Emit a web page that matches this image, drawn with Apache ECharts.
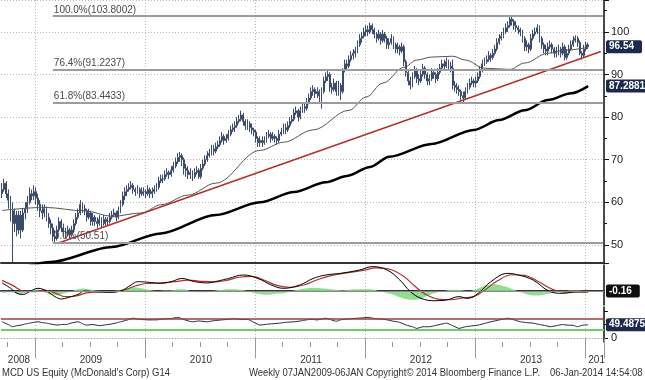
<!DOCTYPE html>
<html><head><meta charset="utf-8">
<script src="https://cdn.jsdelivr.net/npm/echarts@6/dist/echarts.min.js"></script>
<style>html,body{margin:0;padding:0;background:#fff}#c{width:645px;height:380px}</style>
</head><body><div id="c"></div>
<script>
// ---------- data ----------
const startDate = '2008-09-15';          // first weekly bar
const nWeeks = 285;                       // weekly slots on the time axis
const firstOpen = 62.0;
const closes = [
63.0,64.5,62.0,60.5,58.0,55.0,57.0,53.5,57.0,53.5,
57.5,58.5,60.0,62.0,61.5,62.5,61.0,59.5,58.0,57.5,
58.5,56.5,55.0,54.0,52.0,51.5,53.5,55.5,54.0,53.0,
52.5,53.5,52.5,53.5,55.0,56.5,57.5,59.5,58.5,58.0,
56.5,57.5,55.5,56.5,55.5,55.0,56.0,55.0,56.0,55.5,
55.5,56.5,57.0,57.5,56.5,58.0,59.5,61.5,62.5,63.0,
63.5,64.0,63.0,62.5,63.0,62.0,62.5,62.5,62.0,63.0,
62.0,62.5,63.0,63.5,65.0,65.5,65.5,66.5,67.0,66.5,
67.5,68.5,69.5,70.5,71.0,70.0,68.0,67.5,66.5,67.0,
66.0,67.0,67.5,66.0,68.0,69.0,70.0,71.0,71.5,72.5,
72.0,73.0,73.5,74.5,75.5,74.5,75.0,76.0,77.0,77.5,
78.0,79.0,79.5,80.5,79.0,78.0,78.5,77.5,77.0,76.5,
75.0,74.0,74.5,74.0,74.5,75.5,76.0,75.0,75.5,75.0,
74.5,76.0,76.5,77.5,77.0,78.0,79.0,79.5,81.0,81.5,
80.0,81.5,82.5,82.0,83.5,84.5,86.0,86.5,85.5,86.0,
85.0,86.0,88.5,89.5,90.0,87.0,86.5,88.0,86.0,87.5,
86.0,91.0,92.5,92.0,93.5,94.5,95.0,95.5,97.0,98.5,
99.0,100.0,100.5,100.0,101.5,100.5,99.5,98.5,99.5,98.0,
99.5,98.5,97.0,97.5,98.5,97.0,96.0,96.5,95.5,96.5,
93.0,90.5,88.5,87.5,89.5,91.0,89.0,88.5,90.0,91.5,
90.0,88.5,89.0,90.5,90.0,89.0,90.5,91.5,92.5,92.0,
93.0,92.0,91.5,87.5,87.0,86.5,86.0,85.0,84.5,86.0,
87.0,88.0,88.5,88.0,88.5,89.5,91.0,92.5,93.0,93.5,
94.5,94.0,95.0,96.0,97.5,98.5,99.0,100.0,101.0,101.5,
103.0,102.5,101.5,101.0,100.5,100.0,98.5,96.5,97.0,96.0,
98.5,99.5,100.0,101.0,98.5,97.0,96.0,95.5,96.5,97.0,
96.0,95.0,95.5,96.0,95.0,96.5,94.0,95.0,96.0,97.0,
98.0,98.5,97.5,95.0,94.5,96.0,97.0,96.54];
const highs = [
64.5,65.5,65.0,63.0,61.5,60.0,58.5,58.0,58.0,58.0,
58.5,60.0,61.5,63.5,63.0,64.0,63.5,62.0,60.5,59.5,
59.5,59.0,57.5,56.0,55.0,53.5,54.5,56.5,56.0,55.0,
54.0,54.5,54.0,54.5,56.0,57.5,58.5,60.5,60.0,59.5,
58.5,58.5,58.0,57.5,57.0,56.5,57.0,56.5,57.0,56.5,
56.5,57.5,58.0,58.5,58.0,59.0,60.5,62.5,63.5,64.0,
64.5,65.0,64.5,63.5,64.0,63.5,63.5,63.5,63.0,64.0,
63.5,63.5,64.0,64.5,66.0,66.5,66.5,67.5,68.0,67.5,
68.5,69.5,70.5,71.5,71.8,71.5,70.5,69.0,68.5,68.0,
67.5,68.0,68.5,68.0,69.0,70.0,71.0,72.0,72.5,73.5,
73.5,74.0,74.5,75.5,76.5,76.0,76.0,77.0,78.0,78.5,
79.0,80.0,80.5,81.5,81.0,79.5,79.5,79.0,78.5,77.5,
77.0,75.5,75.5,75.5,75.5,76.5,77.0,76.5,76.5,76.0,
75.5,77.0,77.5,78.5,78.5,79.0,80.0,80.5,82.0,82.5,
82.0,82.5,83.5,83.5,84.5,85.5,87.0,87.5,87.0,87.0,
86.5,87.0,89.5,90.5,91.0,90.5,88.0,89.0,88.5,88.5,
88.0,91.5,93.5,93.5,94.5,95.5,96.0,96.5,98.0,99.5,
100.0,101.0,101.5,101.5,102.2,102.0,101.0,100.0,100.5,100.0,
100.5,100.0,99.0,98.5,99.5,99.0,97.5,97.5,97.0,97.5,
97.0,93.5,91.0,89.5,90.5,92.0,91.5,90.0,91.0,92.5,
92.0,90.5,90.0,91.5,91.0,90.5,91.5,92.5,93.5,93.5,
94.0,93.5,93.0,93.5,88.5,88.0,87.5,86.5,86.0,87.0,
88.0,89.0,89.5,89.0,89.5,90.5,92.0,93.5,94.0,94.5,
95.5,95.0,96.0,97.0,98.5,99.5,100.0,101.0,102.0,102.5,
103.8,103.7,103.0,102.5,101.5,101.0,100.5,99.0,98.0,97.5,
99.5,100.5,101.0,101.8,101.5,99.0,97.5,97.0,97.5,98.0,
97.5,96.5,96.5,97.0,96.5,97.5,97.0,96.0,97.0,98.0,
99.0,99.2,99.0,98.0,95.5,97.0,97.7,97.5];
const lows = [
61.0,62.5,61.0,58.5,55.5,45.9,53.0,52.0,52.5,51.5,
53.0,56.0,57.5,59.5,60.5,60.5,59.5,58.0,56.5,56.0,
56.5,55.5,54.0,52.5,50.8,50.5,51.0,53.0,53.0,52.0,
51.5,52.0,51.5,52.0,53.0,54.5,56.0,57.0,57.5,57.0,
55.5,56.0,54.5,54.5,54.5,54.0,54.5,54.0,54.5,54.5,
54.5,55.0,56.0,56.5,55.5,56.0,57.5,59.0,60.5,61.5,
62.5,63.0,62.0,61.5,62.0,61.0,61.5,61.5,61.0,61.5,
61.0,61.0,62.0,62.5,63.0,64.5,64.5,65.0,66.0,65.5,
66.0,67.0,68.0,69.0,69.5,68.5,66.5,66.0,65.5,65.5,
65.0,65.5,66.5,65.5,65.5,67.5,68.5,69.5,70.5,71.0,
71.0,71.5,72.5,73.0,74.0,73.5,74.0,74.5,75.5,76.5,
76.5,77.5,78.5,79.0,78.0,77.0,77.0,76.5,76.0,75.5,
74.0,73.0,73.0,73.0,73.5,74.0,75.0,74.0,74.5,74.0,
73.5,74.0,75.5,76.0,76.0,76.5,77.5,78.5,79.0,80.5,
79.0,79.5,81.0,81.0,81.5,83.0,84.0,85.0,84.5,84.5,
83.5,82.0,85.5,88.0,88.5,86.0,85.5,86.0,85.0,85.0,
84.0,85.5,90.5,91.0,91.5,93.0,93.5,94.0,95.0,96.5,
97.5,98.5,99.0,99.0,99.5,99.5,98.5,97.5,98.0,97.0,
97.5,97.5,96.0,96.0,97.0,96.0,95.0,95.0,94.5,95.0,
92.0,89.5,87.5,86.5,87.0,89.0,88.0,87.5,88.0,89.5,
89.0,87.5,87.5,88.5,89.0,88.0,88.5,90.0,91.0,91.0,
91.5,91.0,90.5,86.5,86.0,85.5,85.0,84.0,83.4,84.0,
85.5,86.5,87.5,87.0,87.0,88.0,89.0,90.5,92.0,92.5,
93.0,93.0,93.5,94.5,95.5,97.0,98.0,98.5,99.5,100.0,
101.0,101.5,100.5,100.0,99.5,99.0,97.5,95.5,95.5,95.0,
95.5,98.0,99.0,99.5,97.5,96.0,95.0,94.5,94.5,96.0,
95.0,94.0,94.0,94.5,94.0,94.5,93.3,93.5,94.5,95.5,
96.5,97.5,96.5,94.5,93.5,94.0,95.5,96.0];
// moving averages [week index, value]
const maShort = [[0,58.1],[20,58.8],[39,58.0],[52,56.7],[66,57.5],[75,59.4],[88,61.7],[101,64.5],[122,72.2],[133,74.1],[147,77.0],[164,81.6],[172,84.7],[180,88.0],[190,91.7],[196,93.4],[203,94.1],[213,94.3],[219,93.4],[228,91.5],[240,91.2],[247,92.7],[258,95.0],[266,95.7],[277,96.4]];
const maLong = [[0,43.1],[23,46.0],[52,49.5],[75,52.7],[101,57.0],[122,60.0],[138,62.4],[153,64.7],[163,66.2],[174,68.3],[183,70.7],[203,73.7],[223,77.0],[235,79.3],[247,81.6],[258,84.0],[269,85.6],[277,87.29]];
const trendLine = [[27,50.5],[283,95.4]];
const fibLevels = [103.8002, 91.2237, 83.4433, 50.51];
const fibLabels = ['100.0%(103.8002)', '76.4%(91.2237)', '61.8%(83.4433)', '0.0%(50.51)'];
const fibStart = 24;
const macdLine = [[0,1.3],[4,0.45],[7,-0.35],[10,-0.55],[13,-0.1],[17,0.43],[21,0.0],[25,-0.9],[28,-1.28],[31,-1.07],[36,-0.53],[39,0.0],[43,-0.1],[51,-0.2],[56,0.0],[61,0.96],[64,1.49],[69,1.4],[75,1.23],[80,1.5],[85,2.0],[91,1.5],[97,1.3],[102,1.6],[107,2.0],[114,2.56],[121,2.0],[127,1.0],[133,0.43],[141,1.0],[147,2.0],[153,2.56],[160,2.83],[169,3.36],[175,3.9],[182,3.36],[188,1.76],[193,-0.1],[198,-1.17],[204,-1.55],[210,-1.44],[216,-0.9],[220,-1.17],[225,-0.37],[231,1.49],[239,2.82],[244,2.56],[251,1.76],[259,-0.1],[265,-0.37],[272,-0.1],[277,-0.16]];
const macdSignal = [[0,1.7],[5,0.9],[10,0.0],[15,-0.1],[20,0.15],[25,-0.3],[30,-0.9],[35,-0.8],[40,-0.3],[46,-0.15],[52,-0.15],[58,0.2],[63,0.8],[68,1.2],[75,1.3],[82,1.5],[88,1.75],[94,1.55],[100,1.45],[106,1.7],[112,2.2],[118,2.35],[124,1.7],[130,0.9],[136,0.6],[143,1.0],[149,1.8],[156,2.5],[163,2.9],[170,3.25],[177,3.7],[184,3.4],[190,2.3],[195,0.8],[200,-0.5],[206,-1.3],[212,-1.4],[218,-1.1],[223,-0.9],[228,0.1],[234,1.6],[241,2.6],[247,2.5],[253,1.6],[260,0.3],[266,-0.2],[272,-0.2],[277,-0.12]];
const macdHist = [[0,-0.3],[4,-0.2],[8,-0.5],[12,-0.2],[16,0.3],[20,-0.2],[23,-0.6],[26,-0.7],[29,-0.4],[32,-0.1],[35,0.2],[38,0.4],[41,0.3],[44,0.1],[47,0.0],[50,-0.1],[53,0.0],[56,0.2],[59,0.4],[62,0.6],[65,0.5],[68,0.3],[71,0.1],[74,0.0],[77,0.1],[80,0.1],[83,0.3],[86,0.3],[89,0.0],[92,-0.2],[95,-0.2],[98,-0.1],[101,0.1],[104,0.2],[107,0.3],[110,0.3],[113,0.2],[116,0.0],[119,-0.3],[122,-0.5],[125,-0.6],[128,-0.5],[131,-0.4],[134,-0.3],[137,0.0],[140,0.2],[143,0.4],[146,0.5],[149,0.5],[152,0.4],[155,0.3],[158,0.2],[161,0.1],[164,0.2],[167,0.3],[170,0.3],[173,0.3],[176,0.2],[179,-0.1],[182,-0.3],[185,-0.6],[188,-1.0],[191,-1.3],[194,-1.4],[197,-1.3],[200,-0.9],[203,-0.5],[206,-0.2],[209,0.0],[212,0.2],[215,0.2],[218,0.1],[221,0.0],[224,0.3],[227,0.7],[230,1.0],[233,1.1],[236,0.9],[239,0.6],[242,0.2],[245,-0.2],[248,-0.5],[251,-0.7],[254,-0.7],[257,-0.5],[260,-0.3],[263,-0.1],[266,0.0],[269,0.1],[272,0.1],[275,0.0],[277,0.0]];
const rsi = [[0,60],[3,50],[5,42],[7,46],[9,48],[11,52],[13,55],[15,58],[17,60],[19,57],[21,55],[23,52],[26,48],[28,50],[31,51],[33,56],[36,60],[38,53],[40,48],[43,50],[46,46],[49,49],[51,51],[54,56],[56,60],[59,66],[62,73],[65,69],[69,67],[73,67],[76,70],[80,72],[83,76],[86,68],[90,60],[93,63],[97,60],[100,64],[104,67],[107,69],[110,71],[113,68],[116,69],[119,58],[122,48],[125,51],[128,53],[131,55],[134,58],[138,60],[141,63],[143,66],[146,69],[149,67],[153,73],[156,66],[158,62],[160,67],[163,70],[166,72],[170,74],[173,76],[176,72],[179,70],[182,67],[185,62],[188,58],[191,48],[194,42],[196,36],[199,42],[202,42],[205,47],[208,52],[210,55],[213,46],[216,36],[219,42],[222,45],[225,48],[228,54],[231,60],[234,65],[237,70],[239,73],[242,67],[245,60],[248,57],[251,55],[254,50],[257,46],[259,42],[262,46],[265,50],[267,48],[270,47],[272,42],[274,47],[277,49.49]];
const rsiBands = [70, 30];
const lastPrice = 96.54, lastMaLong = 87.2881, lastMacd = -0.16, lastRsi = 49.4875;
const lastPriceTxt = '96.54', lastMaLongTxt = '87.2881', lastMacdTxt = '-0.16', lastRsiTxt = '49.4875';
const yearStarts = [16, 68, 120, 172, 224, 276];
const quarterStarts = [3, 29, 42, 55, 81, 94, 107, 133, 146, 159, 185, 198, 211, 237, 250, 263];
const yearLabelIdx = [8, 42, 94, 146, 198, 250];
const yearLabels = ['2008', '2009', '2010', '2011', '2012', '2013'];
const cutYearIdx = 281, cutYearLabel = '2014';
const footerLeft = "MCD US Equity (McDonald's Corp) G14";
const footerMid = 'Weekly 07JAN2009-06JAN';
const footerCopy = 'Copyright\u00A9 2014 Bloomberg Finance L.P.';
const footerDate = '06-Jan-2014 14:54:08';

// ---------- build ----------
const cats = [];
{ const d0 = new Date(startDate + 'T00:00:00Z');
  for (let i = 0; i < nWeeks; i++) { const d = new Date(d0.getTime() + i * 7 * 864e5); cats.push(d.toISOString().slice(0, 10)); } }
const candles = closes.map((c, i) => [i === 0 ? firstOpen : closes[i - 1], c, lows[i], highs[i]]);

const SANS = '"Liberation Sans", Arial, sans-serif';
const BOX = (txt, bg) => ({ show: true, position: 'end', distance: 2, formatter: txt, color: '#fff', backgroundColor: bg,
  padding: [2, 8, 1, 3], fontSize: 10, fontWeight: 'bold', fontFamily: SANS, borderRadius: 2 });
const HIDDEN_LINE = { color: 'rgba(0,0,0,0)', width: 0 };
const dotted = { show: true, lineStyle: { color: '#b8b8b8', type: [1, 2], width: 1 } };
const yearSplit = { show: true, interval: (i) => yearStarts.includes(i), lineStyle: { color: '#b8b8b8', type: [1, 2], width: 1 } };

function xCat(grid, extra) {
  return Object.assign({ type: 'category', gridIndex: grid, data: cats, boundaryGap: true, position: 'bottom',
    axisLabel: { show: false }, axisTick: { show: false }, splitLine: yearSplit,
    axisLine: { show: true, lineStyle: { color: '#333', width: 2 } } }, extra || {});
}

const fibMark = fibLevels.map((v, k) => [
  { coord: [fibStart, v], label: { show: true, formatter: fibLabels[k], position: 'insideStartTop', distance: [1, 1],
      color: '#4a4a4a', fontSize: 10, fontFamily: SANS } },
  { coord: [nWeeks - 1, v] }]);

const option = {
  animation: false,
  backgroundColor: '#fff',
  textStyle: { fontFamily: SANS },
  grid: [
    { left: 1, right: 41, top: 0, height: 263 },
    { left: 1, right: 41, top: 265, height: 40 },
    { left: 1, right: 41, top: 307, height: 35 }
  ],
  xAxis: [
    xCat(0),
    xCat(1),
    xCat(2, { axisLine: { show: true, lineStyle: { color: '#aaa', type: [1, 2], width: 1 } },
      axisTick: { show: true, interval: (i) => yearStarts.includes(i), length: 20, lineStyle: { color: '#999' } },
      axisLabel: { show: true, interval: (i) => yearLabelIdx.includes(i), margin: 13, fontSize: 10, color: '#333',
        formatter: (v, i) => { const k = yearLabelIdx.indexOf(i); return k >= 0 ? yearLabels[k] : ''; } } }),
    xCat(2, { axisLine: { show: false }, splitLine: { show: false },
      axisTick: { show: true, interval: (i) => quarterStarts.includes(i), length: 5, lineStyle: { color: '#999' } },
      axisLabel: { show: true, interval: (i) => i === cutYearIdx, margin: 13, fontSize: 10, color: '#333',
        width: 19, overflow: 'truncate', ellipsis: '', formatter: () => cutYearLabel } })
  ],
  yAxis: [
    { type: 'value', gridIndex: 0, position: 'right', min: 45.75, max: 107.5, minInterval: 10, maxInterval: 10,
      axisLine: { show: true, lineStyle: { color: '#111', width: 1.5 } },
      axisTick: { show: true, length: 5, lineStyle: { color: '#111' } },
      minorTick: { show: true, splitNumber: 2, length: 3, lineStyle: { color: '#111' } },
      axisLabel: { show: true, margin: 7, fontSize: 11, color: '#222', showMinLabel: false, showMaxLabel: false },
      splitLine: dotted },
    { type: 'value', gridIndex: 1, position: 'right', min: -2.24, max: 4.16,
      axisLine: { show: true, lineStyle: { color: '#111', width: 1.5 } }, axisTick: { show: false },
      axisLabel: { show: false }, splitLine: { show: false } },
    { type: 'value', gridIndex: 2, position: 'right', min: -13.5, max: 113.8, minInterval: 50, maxInterval: 50,
      axisLine: { show: true, lineStyle: { color: '#111', width: 1.5 } },
      axisTick: { show: true, length: 4, lineStyle: { color: '#111' } },
      axisLabel: { show: true, margin: 7, fontSize: 11, color: '#222', showMinLabel: false, showMaxLabel: false,
        formatter: (v) => (v === 0 ? '0' : '') },
      splitLine: { show: false } }
  ],
  series: [
    { type: 'candlestick', xAxisIndex: 0, yAxisIndex: 0, data: candles, barWidth: 1.4,
      itemStyle: { color: '#e3e8f0', color0: '#7486a6', borderColor: '#3b4b6e', borderColor0: '#3b4b6e', borderWidth: 1 },
      markLine: { silent: true, symbol: ['none', 'none'], animation: false,
        lineStyle: { color: '#9c9c9c', width: 2, type: 'solid' },
        data: fibMark } },
    { type: 'line', xAxisIndex: 0, yAxisIndex: 0, data: maShort, smooth: 0.35, smoothMonotone: 'x', showSymbol: false,
      lineStyle: { color: '#555', width: 1 } },
    { type: 'line', xAxisIndex: 0, yAxisIndex: 0, data: maLong, smooth: 0.3, smoothMonotone: 'x', showSymbol: false,
      lineStyle: { color: '#000', width: 2.5 },
      markLine: { silent: true, symbol: ['none', 'none'], lineStyle: HIDDEN_LINE,
        data: [{ yAxis: lastMaLong, label: BOX(lastMaLongTxt, '#1b2a4a') }] } },
    { type: 'line', xAxisIndex: 0, yAxisIndex: 0, data: trendLine, showSymbol: false,
      lineStyle: { color: '#b3302b', width: 1.5 },
      markLine: { silent: true, symbol: ['none', 'none'], lineStyle: HIDDEN_LINE,
        data: [{ yAxis: lastPrice, label: BOX(lastPriceTxt, '#1b2a4a') }] } },
    // MACD panel
    { type: 'line', xAxisIndex: 1, yAxisIndex: 1, data: macdHist, smooth: 0.3, showSymbol: false,
      lineStyle: { width: 0 }, areaStyle: { color: '#86d986', opacity: 0.9 } },
    { type: 'line', xAxisIndex: 1, yAxisIndex: 1, data: macdSignal, smooth: 0.4, showSymbol: false,
      lineStyle: { color: '#b3302b', width: 1.2 } },
    { type: 'line', xAxisIndex: 1, yAxisIndex: 1, data: macdLine, smooth: 0.4, showSymbol: false,
      lineStyle: { color: '#000', width: 1 },
      markLine: { silent: true, symbol: ['none', 'none'], lineStyle: { color: '#8c8c8c', width: 1, type: 'solid' },
        data: [{ yAxis: 0, label: BOX(lastMacdTxt, '#0d0d0d') }] } },
    // RSI panel
    { type: 'line', xAxisIndex: 2, yAxisIndex: 2, data: rsi, smooth: 0.2, showSymbol: false,
      lineStyle: { color: '#1a2544', width: 1 },
      markLine: { silent: true, symbol: ['none', 'none'],
        data: [
          { yAxis: rsiBands[0], lineStyle: { color: '#a8383a', width: 1.5, type: 'solid' }, label: { show: false } },
          { yAxis: rsiBands[1], lineStyle: { color: '#6ccf6c', width: 2, type: 'solid' }, label: { show: false } },
          { yAxis: lastRsi, lineStyle: HIDDEN_LINE, label: BOX(lastRsiTxt, '#1b2a4a') }
        ] } }
  ],
  graphic: [
    { type: 'text', x: 2, y: 373, scaleX: 0.86, style: { text: footerLeft, font: '11px ' + SANS, fill: '#333', verticalAlign: 'middle' } },
    { type: 'text', x: 249, y: 373, scaleX: 0.86, style: { text: footerMid, font: '11px ' + SANS, fill: '#333', verticalAlign: 'middle' } },
    { type: 'text', x: 366, y: 373, scaleX: 0.86, style: { text: footerCopy, font: '11px ' + SANS, fill: '#333', verticalAlign: 'middle' } },
    { type: 'text', x: 550, y: 373, scaleX: 0.86, style: { text: footerDate, font: '11px ' + SANS, fill: '#333', verticalAlign: 'middle' } }
  ]
};
const chart = echarts.init(document.getElementById('c'), null, { renderer: 'canvas' });
chart.setOption(option);
</script></body></html>
